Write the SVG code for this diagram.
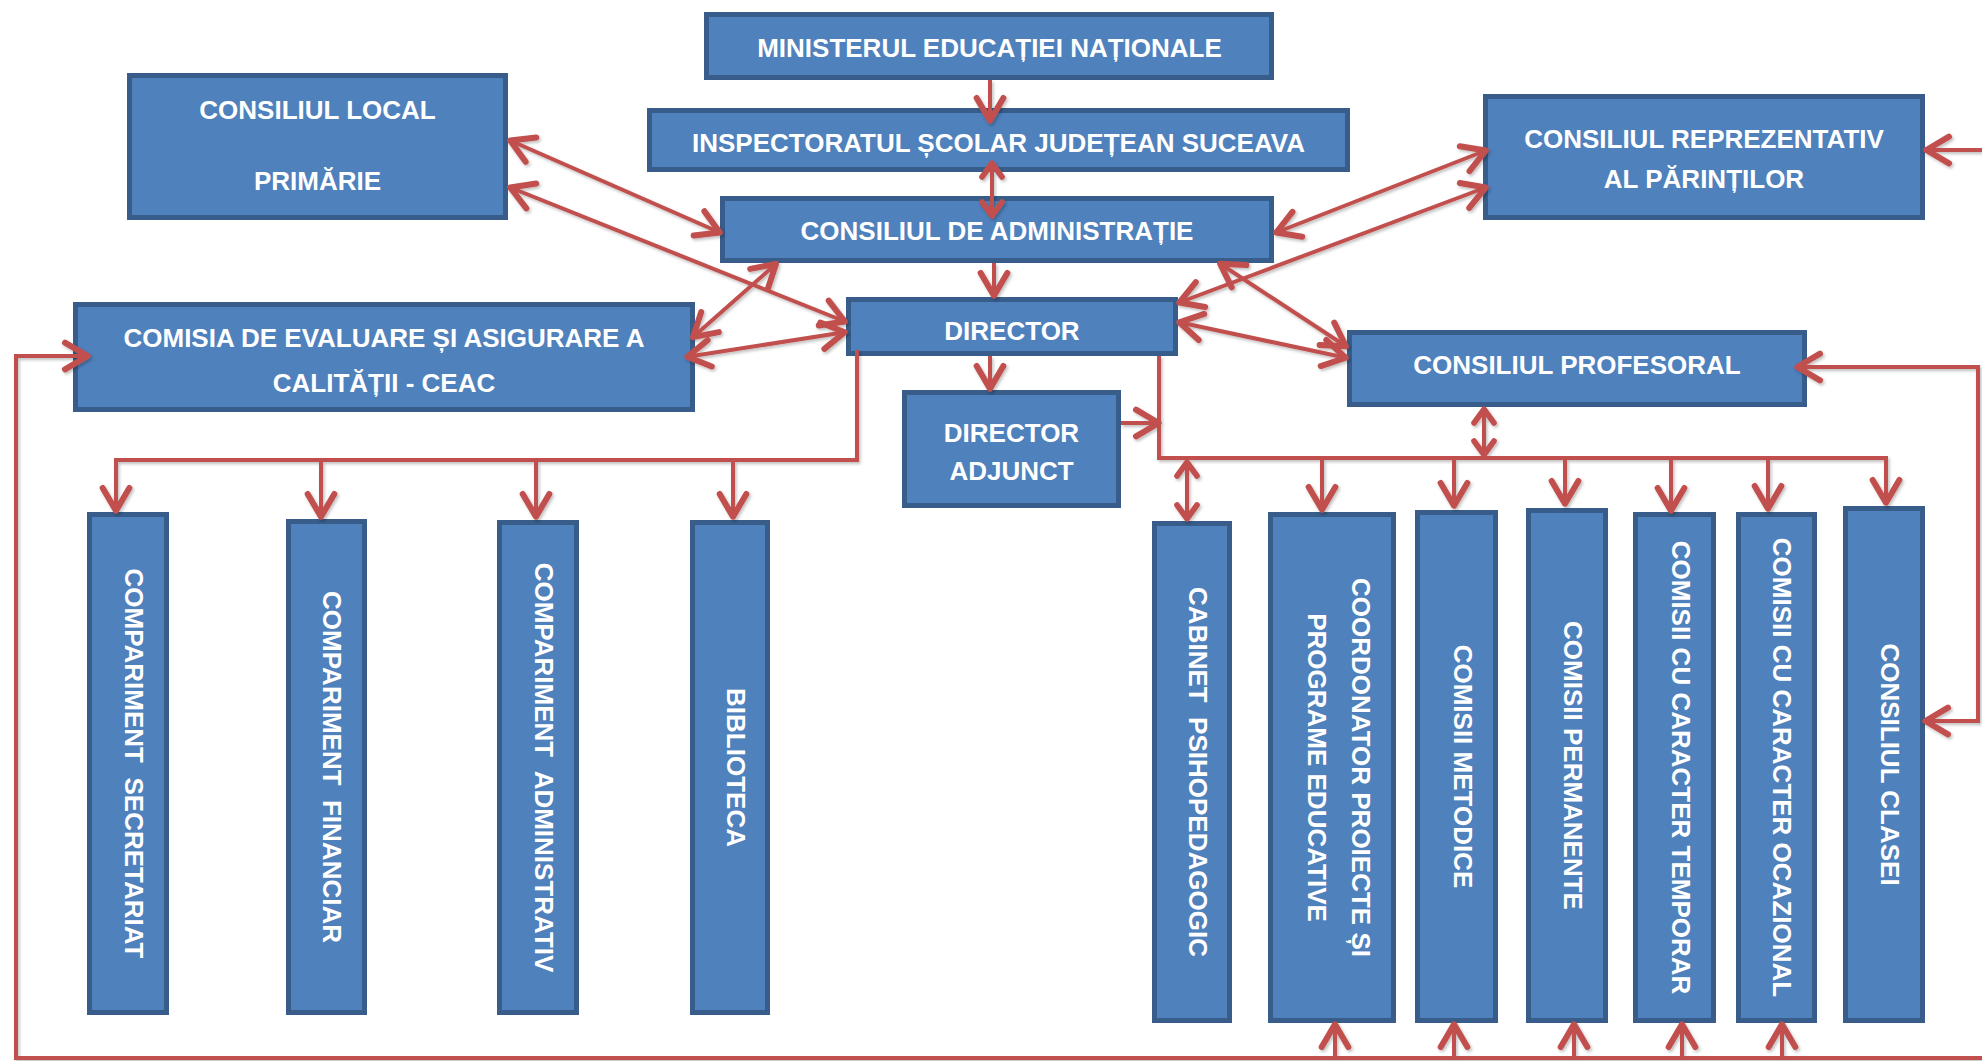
<svg xmlns="http://www.w3.org/2000/svg" width="1982" height="1061" viewBox="0 0 1982 1061">
<style>
.box{fill:#4F81BD;stroke:#385D8A;stroke-width:5}
.t{font-family:"Liberation Sans",Arial,sans-serif;font-weight:bold;font-size:26px;fill:#FFFFFF;text-anchor:middle}
.c{fill:none;stroke:#C0504D;stroke-width:4}
</style>
<defs>
<marker id="a" markerUnits="userSpaceOnUse" markerWidth="40" markerHeight="40" viewBox="-25 -15 30 30" refX="0" refY="0" orient="auto-start-reverse" overflow="visible">
<path d="M-18,-10 L-1,0 L-18,10" fill="none" stroke="#C0504D" stroke-width="4.5" stroke-linecap="round" stroke-linejoin="round"/>
</marker>
<marker id="b" markerUnits="userSpaceOnUse" markerWidth="30" markerHeight="30" viewBox="-20 -12 24 24" refX="0" refY="0" orient="auto-start-reverse" overflow="visible">
<path d="M-12,-8 L-1,0 L-12,8" fill="none" stroke="#C0504D" stroke-width="4.5" stroke-linecap="round" stroke-linejoin="round"/>
</marker>
<filter id="sh" x="-5%" y="-5%" width="110%" height="110%">
<feDropShadow dx="1.5" dy="2" stdDeviation="1.5" flood-color="#000" flood-opacity="0.25"/>
</filter>
</defs>
<rect width="1982" height="1061" fill="#FFFFFF"/>

<g id="ministerul">
<rect class="box" x="706.5" y="14.5" width="565" height="63"/>
<text class="t" x="989.5" y="57">MINISTERUL EDUCAȚIEI NAȚIONALE</text>
</g>
<g id="inspectoratul">
<rect class="box" x="649.5" y="110.5" width="698" height="59"/>
<text class="t" x="998.5" y="152">INSPECTORATUL ȘCOLAR JUDEȚEAN SUCEAVA</text>
</g>
<g id="consiliul-local">
<rect class="box" x="129.5" y="75.5" width="376" height="142"/>
<text class="t" x="317.5" y="119">CONSILIUL LOCAL</text>
<text class="t" x="317.5" y="190">PRIMĂRIE</text>
</g>
<g id="consiliul-parinti">
<rect class="box" x="1485.5" y="96.5" width="437" height="121"/>
<text class="t" x="1704" y="148">CONSILIUL REPREZENTATIV</text>
<text class="t" x="1704" y="188">AL PĂRINȚILOR</text>
</g>
<g id="consiliul-administratie">
<rect class="box" x="722.5" y="198.5" width="549" height="62"/>
<text class="t" x="997" y="240">CONSILIUL DE ADMINISTRAȚIE</text>
</g>
<g id="director">
<rect class="box" x="848.5" y="299.5" width="327" height="54"/>
<text class="t" x="1012" y="340">DIRECTOR</text>
</g>
<g id="ceac">
<rect class="box" x="75.5" y="304.5" width="617" height="105"/>
<text class="t" x="384" y="347">COMISIA DE EVALUARE ȘI ASIGURARE A</text>
<text class="t" x="384" y="392">CALITĂȚII - CEAC</text>
</g>
<g id="consiliul-profesoral">
<rect class="box" x="1349.5" y="332.5" width="455" height="72"/>
<text class="t" x="1577" y="374">CONSILIUL PROFESORAL</text>
</g>
<g id="director-adjunct">
<rect class="box" x="904.5" y="392.5" width="214" height="113"/>
<text class="t" x="1011.5" y="442">DIRECTOR</text>
<text class="t" x="1011.5" y="480">ADJUNCT</text>
</g>

<g id="compartiment-secretariat">
<rect class="box" x="89.5" y="514.5" width="77" height="498"/>
<text class="t" xml:space="preserve" transform="translate(134,763.5) rotate(90)" y="9.3">COMPARIMENT  SECRETARIAT</text>
</g>
<g id="compartiment-financiar">
<rect class="box" x="288.5" y="521.5" width="76" height="491"/>
<text class="t" xml:space="preserve" transform="translate(332.5,767) rotate(90)" y="9.3">COMPARIMENT  FINANCIAR</text>
</g>
<g id="compartiment-administrativ">
<rect class="box" x="499.5" y="522.5" width="77" height="490"/>
<text class="t" xml:space="preserve" transform="translate(544,767.5) rotate(90)" y="9.3">COMPARIMENT  ADMINISTRATIV</text>
</g>
<g id="biblioteca">
<rect class="box" x="692.5" y="522.5" width="75" height="490"/>
<text class="t" transform="translate(736,767.5) rotate(90)" y="9.3">BIBLIOTECA</text>
</g>

<g id="cabinet">
<rect class="box" x="1154.5" y="523.5" width="75" height="497"/>
<text class="t" xml:space="preserve" transform="translate(1198,772) rotate(90)" y="9.3">CABINET  PSIHOPEDAGOGIC</text>
</g>
<g id="coordonator">
<rect class="box" x="1270.5" y="514.5" width="123" height="506"/>
<text class="t" transform="translate(1361,767.5) rotate(90)" y="9.3">COORDONATOR PROIECTE ȘI</text>
<text class="t" transform="translate(1317.5,767.5) rotate(90)" y="9.3">PROGRAME EDUCATIVE</text>
</g>
<g id="comisii-metodice">
<rect class="box" x="1417.5" y="512.5" width="78" height="508"/>
<text class="t" transform="translate(1463,766.5) rotate(90)" y="9.3">COMISII METODICE</text>
</g>
<g id="comisii-permanente">
<rect class="box" x="1528.5" y="510.5" width="77" height="510"/>
<text class="t" transform="translate(1573,765.5) rotate(90)" y="9.3">COMISII PERMANENTE</text>
</g>
<g id="comisii-temporar">
<rect class="box" x="1635.5" y="514.5" width="78" height="506"/>
<text class="t" transform="translate(1681.5,767.5) rotate(90)" y="9.3">COMISII CU CARACTER TEMPORAR</text>
</g>
<g id="comisii-ocazional">
<rect class="box" x="1738.5" y="514.5" width="76" height="506"/>
<text class="t" transform="translate(1782,767.5) rotate(90)" y="9.3">COMISII CU CARACTER OCAZIONAL</text>
</g>
<g id="consiliul-clasei">
<rect class="box" x="1845.5" y="508.5" width="77" height="512"/>
<text class="t" transform="translate(1890,764.5) rotate(90)" y="9.3">CONSILIUL CLASEI</text>
</g>

<g id="connectors" filter="url(#sh)">
<path class="c" d="M990,80 L990,122" marker-end="url(#a)"/>
<path class="c" d="M992,162 L992,217" marker-start="url(#b)" marker-end="url(#b)"/>
<path class="c" d="M994,263 L994,297" marker-end="url(#a)"/>
<path class="c" d="M990,356 L990,390" marker-end="url(#a)"/>
<path class="c" d="M509,140 L721,233" marker-start="url(#a)" marker-end="url(#a)"/>
<path class="c" d="M509,187 L846,322" marker-start="url(#a)" marker-end="url(#a)"/>
<path class="c" d="M777,263 L692,338" marker-start="url(#a)" marker-end="url(#a)"/>
<path class="c" d="M846,332 L686,357" marker-start="url(#a)" marker-end="url(#a)"/>
<path class="c" d="M1275,233 L1487,150" marker-start="url(#a)" marker-end="url(#a)"/>
<path class="c" d="M1178,303 L1487,187" marker-start="url(#a)" marker-end="url(#a)"/>
<path class="c" d="M1219,263 L1347,347" marker-start="url(#a)" marker-end="url(#a)"/>
<path class="c" d="M1178,322 L1347,358" marker-start="url(#a)" marker-end="url(#a)"/>
<path class="c" d="M1982,150 L1925,150" marker-end="url(#a)"/>
<path class="c" d="M1796,367 L1978,367 L1978,721 L1924,721" marker-start="url(#a)" marker-end="url(#a)"/>
<path class="c" d="M857,350 L857,460 L116,460 L116,512" marker-end="url(#a)"/>
<path class="c" d="M321,460 L321,518" marker-end="url(#a)"/>
<path class="c" d="M536,460 L536,518" marker-end="url(#a)"/>
<path class="c" d="M733,460 L733,518" marker-end="url(#a)"/>
<path class="c" d="M1159,356 L1159,458 L1886,458 L1886,504" marker-end="url(#a)"/>
<path class="c" d="M1121,423 L1160,423" marker-end="url(#a)"/>
<path class="c" d="M1187,461 L1187,520" marker-start="url(#b)" marker-end="url(#b)"/>
<path class="c" d="M1484,408 L1484,456" marker-start="url(#b)" marker-end="url(#b)"/>
<path class="c" d="M1322,458 L1322,511" marker-end="url(#a)"/>
<path class="c" d="M1454,458 L1454,507" marker-end="url(#a)"/>
<path class="c" d="M1565,458 L1565,505" marker-end="url(#a)"/>
<path class="c" d="M1671,458 L1671,512" marker-end="url(#a)"/>
<path class="c" d="M1768,458 L1768,510" marker-end="url(#a)"/>
<path class="c" d="M1982,1058 L16,1058 L16,356 L89,356" marker-end="url(#a)"/>
<path class="c" d="M1335,1058 L1335,1023" marker-end="url(#a)"/>
<path class="c" d="M1454,1058 L1454,1023" marker-end="url(#a)"/>
<path class="c" d="M1574,1058 L1574,1023" marker-end="url(#a)"/>
<path class="c" d="M1682,1058 L1682,1023" marker-end="url(#a)"/>
<path class="c" d="M1782,1058 L1782,1023" marker-end="url(#a)"/>
</g>
</svg>
